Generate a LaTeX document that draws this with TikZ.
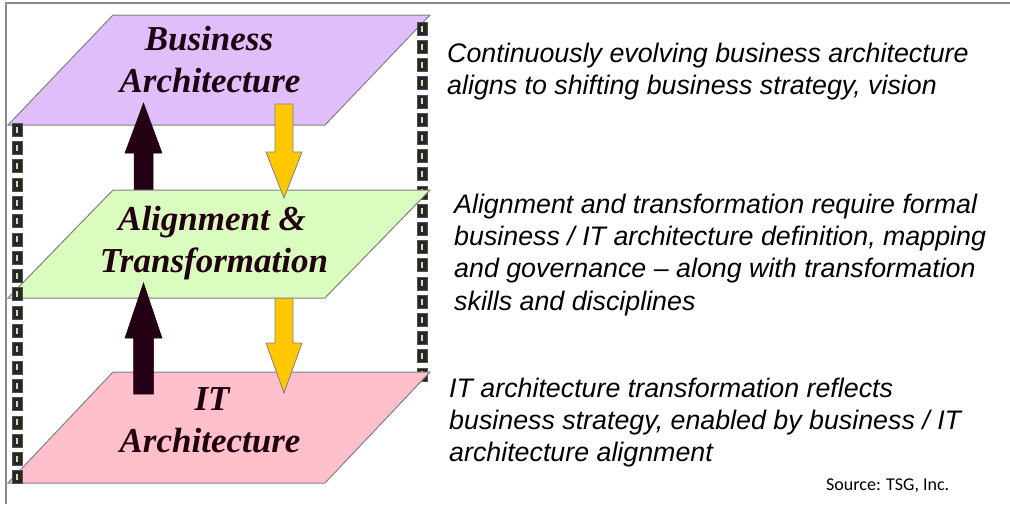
\documentclass[tikz,border=0pt]{standalone}
\usepackage{fontspec}
\setmainfont{Liberation Serif}
\newfontfamily\arialfont[Ligatures=TeX]{Liberation Sans}
\newfontfamily\calfont{Carlito}
\definecolor{purp}{RGB}{224,190,250}
\definecolor{grn}{RGB}{218,252,190}
\definecolor{pnk}{RGB}{255,192,203}
\definecolor{darkarr}{RGB}{36,0,20}
\definecolor{yel}{RGB}{255,200,0}
\definecolor{titlecol}{RGB}{32,0,16}
\definecolor{edge}{RGB}{128,128,128}
\definecolor{sqfill}{RGB}{38,38,38}
\definecolor{sqedge}{RGB}{80,80,80}
\definecolor{barcol}{RGB}{215,222,170}
\definecolor{frame}{RGB}{140,140,140}
\tikzset{
  plane/.style={draw=edge, line width=1pt, line join=miter},
  darkarrow/.style={fill=darkarr, draw=darkarr, line width=0.5pt},
  yarrow/.style={fill=yel, draw=edge, line width=0.8pt},
  title/.style={font=\fontsize{35}{40}\selectfont\bfseries\itshape, text=titlecol, inner sep=0pt, anchor=base},
  desc/.style={font=\arialfont\itshape\fontsize{26.8}{32}\selectfont, inner sep=0pt, anchor=base west},
  srcnote/.style={font=\calfont\fontsize{18}{22}\selectfont, inner sep=0pt, anchor=base west},
  sq/.style={fill=sqfill, draw=sqedge, line width=0.6pt},
  sqbar/.style={fill=barcol},
  frameline/.style={draw=frame, line width=2pt}
}
\begin{document}
\begin{tikzpicture}[x=1pt,y=-1pt]
\useasboundingbox (0,0) rectangle (1010,504);
\fill[white] (0,0) rectangle (1010,504);
% outer frame
\draw[frameline] (6,504) -- (6,3) -- (1010,3);
% plane 1
\draw[plane, fill=purp] (113,15) -- (430,15) -- (325,125) -- (8,125) -- cycle;
% dark arrow 1 (under plane 2)
\draw[darkarrow] (134,205) -- (134,153) -- (125,153) -- (143.5,103) -- (162,153) -- (153,153) -- (153,205) -- cycle;
% right strip
\foreach \k in {0,...,19} {
  \pgfmathsetmacro\yy{22+18.2*\k}
  \draw[sq] (417,\yy) rectangle (427,\yy+13);
  \fill[sqbar] (421.3,\yy+3.5) rectangle (422.7,\yy+9.5);
}
% plane 3
\draw[plane, fill=pnk] (113,372) -- (430,372) -- (325,483) -- (8,483) -- cycle;
% yellow arrow 2
\draw[yarrow] (275,292) -- (293,292) -- (293,343) -- (302,343) -- (284,393) -- (266,343) -- (275,343) -- cycle;
% plane 2
\draw[plane, fill=grn] (113,190) -- (430,190) -- (325,298) -- (8,298) -- cycle;
% yellow arrow 1
\draw[yarrow] (275,104) -- (293,104) -- (293,152) -- (302,152) -- (284,198) -- (266,152) -- (275,152) -- cycle;
% dark arrow 2
\draw[darkarrow] (133.5,394) -- (133.5,338) -- (125,338) -- (143.5,283) -- (162,338) -- (153.5,338) -- (153.5,394) -- cycle;
% left strip
\foreach \k in {0,...,19} {
  \pgfmathsetmacro\yy{123+18.3*\k}
  \draw[sq] (12,\yy) rectangle (22,\yy+13);
  \fill[sqbar] (16.3,\yy+3.5) rectangle (17.7,\yy+9.5);
}
% titles
\node[title] (bus1) at (209,50) {Business};
\node[title] (bus2) at (210,92) {Architecture};
\node[title] (al1) at (212,230) {Alignment \&};
\node[title] (al2) at (214,272) {Transformation};
\node[title] (it1) at (212,410) {IT};
\node[title] (it2) at (210,452) {Architecture};
% descriptions
\node[desc] (d11) at (447,62) {Continuously evolving business architecture};
\node[desc] (d12) at (447,94.5) {aligns to shifting business strategy, vision};
\node[desc] (d21) at (454,213) {Alignment and transformation require formal};
\node[desc] (d22) at (454,245.5) {business / IT architecture definition, mapping};
\node[desc] (d23) at (454,277.5) {and governance – along with transformation};
\node[desc] (d24) at (454,310) {skills and disciplines};
\node[desc] (d31) at (449,397) {IT architecture transformation reflects};
\node[desc] (d32) at (449,429) {business strategy, enabled by business / IT};
\node[desc] (d33) at (449,461.5) {architecture alignment};
\node[srcnote] (src) at (826,490) {Source: TSG, Inc.};
\end{tikzpicture}
\end{document}
